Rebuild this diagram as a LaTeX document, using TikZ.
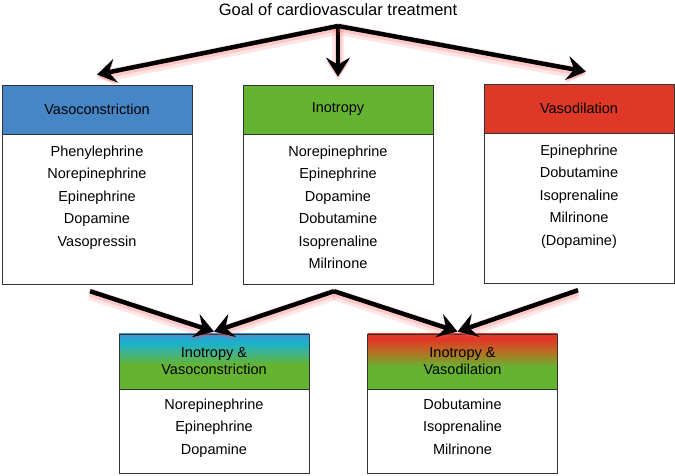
\documentclass[tikz,border=0pt]{standalone}
\usepackage{fontspec}
\setmainfont{Liberation Sans}
\usetikzlibrary{arrows.meta,calc}

\definecolor{vcblue}{RGB}{70,134,198}
\definecolor{inogreen}{RGB}{100,180,50}
\definecolor{vdred}{RGB}{224,56,38}
\definecolor{glowred}{RGB}{255,80,80}
\definecolor{skyblue}{RGB}{60,150,212}
\definecolor{cyanmix}{RGB}{25,178,205}
\definecolor{tealmix}{RGB}{70,180,130}
\definecolor{orangemix}{RGB}{185,110,35}

\pgfdeclareverticalshading{bluegreen}{100bp}{color(0bp)=(inogreen); color(25bp)=(inogreen);
  color(47bp)=(inogreen); color(57bp)=(tealmix); color(67bp)=(cyanmix);
  color(75bp)=(skyblue); color(100bp)=(skyblue)}
\pgfdeclareverticalshading{redgreen}{100bp}{color(0bp)=(inogreen); color(25bp)=(inogreen);
  color(45bp)=(inogreen); color(59bp)=(orangemix); color(70bp)=(vdred);
  color(75bp)=(vdred); color(100bp)=(vdred)}

\tikzset{
  head/.style={draw=black!80, line width=0.8pt, minimum width=190pt, minimum height=49pt,
    inner sep=0pt, align=center, font=\fontsize{14.5}{17}\selectfont},
  body/.style={draw=black!80, line width=0.8pt, minimum width=190pt, inner sep=0pt, anchor=north},
  list/.style={align=center, anchor=north, inner sep=0pt, font=\fontsize{14.5}{22.5}\selectfont},
  bigarrow/.style={line width=4.5pt, -{Stealth[length=19pt,width=24pt,inset=7pt]},
    preaction={draw=glowred, opacity=0.14, line width=12pt, transform canvas={yshift=-3pt}},
    preaction={draw=glowred, opacity=0.2, line width=7pt, transform canvas={yshift=-2pt}}}
}

\begin{document}
\begin{tikzpicture}[x=1pt,y=1pt]
\useasboundingbox (0,0) rectangle (675,476);

\node[font=\fontsize{16.5}{20}\selectfont] (goal) at (338,466) {Goal of cardiovascular treatment};
\coordinate (top) at (338,450);

\node[head, fill=vcblue] (vc) at (97,366.5) {Vasoconstriction};
\node[body, minimum height=150pt] (vcb) at (vc.south) {};
\node[list] (vcl) at ([yshift=-11pt]vc.south) {Phenylephrine\\Norepinephrine\\Epinephrine\\Dopamine\\Vasopressin};

\node[head, fill=inogreen] (ino) at (338,366.5) {Inotropy};
\node[body, minimum height=150pt] (inob) at (ino.south) {};
\node[list] (inol) at ([yshift=-11pt]ino.south) {Norepinephrine\\Epinephrine\\Dopamine\\Dobutamine\\Isoprenaline\\Milrinone};

\node[head, fill=vdred] (vd) at (579,367.5) {Vasodilation};
\node[body, minimum height=150pt] (vdb) at (vd.south) {};
\node[list] (vdl) at ([yshift=-11pt]vd.south) {Epinephrine\\Dobutamine\\Isoprenaline\\Milrinone\\(Dopamine)};

\node[head, minimum height=55pt, shading=bluegreen] (ivc) at (214,114.5) {Inotropy \&\\Vasoconstriction};
\node[body, minimum height=84pt] (ivcb) at (ivc.south) {};
\node[list] (ivcl) at ([yshift=-9pt]ivc.south) {Norepinephrine\\Epinephrine\\Dopamine};

\node[head, minimum height=55pt, shading=redgreen] (ivd) at (462.5,114.5) {Inotropy \&\\Vasodilation};
\node[body, minimum height=84pt] (ivdb) at (ivd.south) {};
\node[list] (ivdl) at ([yshift=-9pt]ivd.south) {Dobutamine\\Isoprenaline\\Milrinone};

\coordinate (vcin) at ([yshift=10pt]vc.north);
\coordinate (inoin) at ([yshift=8pt]ino.north);
\coordinate (vdin) at ([xshift=7pt,yshift=12pt]vd.north);
\coordinate (vcout) at ([xshift=-7pt,yshift=-6pt]vcb.south);
\coordinate (inoout) at ([xshift=-4pt,yshift=-6pt]inob.south);
\coordinate (vdout) at ([xshift=-1pt,yshift=-6pt]vdb.south);
\coordinate (ivcin) at ([yshift=2pt]ivc.north);
\coordinate (ivdin) at ([xshift=-5pt,yshift=2pt]ivd.north);

\draw[bigarrow] (top) -- (vcin);
\draw[bigarrow] (top) -- (inoin);
\draw[bigarrow] (top) -- (vdin);

\draw[bigarrow] (vcout) -- (ivcin);
\draw[bigarrow] (inoout) -- (ivcin);
\draw[bigarrow] (inoout) -- (ivdin);
\draw[bigarrow] (vdout) -- (ivdin);
\end{tikzpicture}
\end{document}
